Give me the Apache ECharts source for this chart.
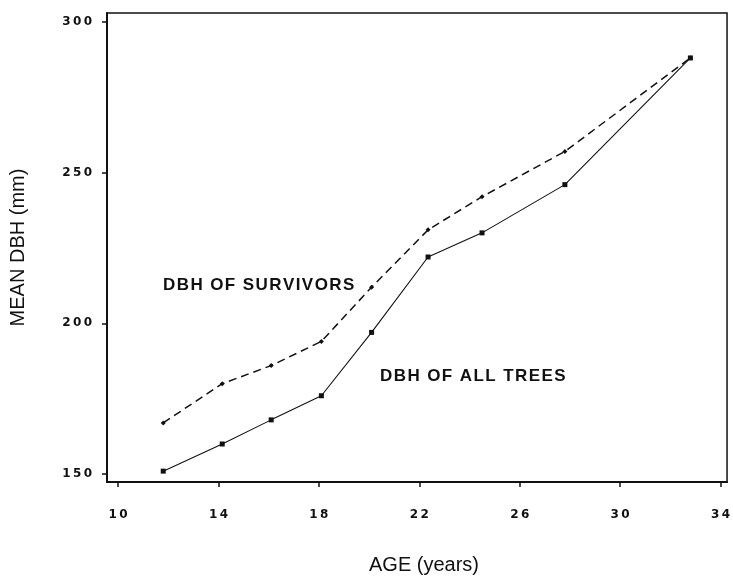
<!DOCTYPE html>
<html>
<head>
<meta charset="utf-8">
<script src="https://cdn.jsdelivr.net/npm/echarts@6/dist/echarts.min.js"></script>
<style>
  html, body {margin: 0; padding: 0; background: #fff;}
  #chart {width: 733px; height: 580px;}
</style>
</head>
<body>
<div id="chart"></div>
<script>
// ages (years) at which mean DBH was measured
const ages = [11.8, 14.15, 16.1, 18.1, 20.1, 22.35, 24.5, 27.8, 32.8];
const dbhAllTrees = [151, 160, 168, 176, 197, 222, 230, 246, 288];
const dbhSurvivors = [167, 180, 186, 194, 212, 231, 242, 257, 288];
const xTicks = [10, 14, 18, 22, 26, 30, 34];
const yTicks = [150, 200, 250, 300];

const tickFont = 'DejaVu Sans';
// the plotter font is wide, so space the glyphs a little
const spaced = (s, sp = '\u2009') => String(s).split('').join(sp);

const chart = echarts.init(document.getElementById('chart'), null, {renderer: 'canvas'});

const axisCommon = {
    axisLine: {show: true, lineStyle: {color: '#111', width: 2}},
    splitLine: {show: false},
    axisTick: {show: true, inside: false, length: 5, lineStyle: {color: '#111', width: 1.5}},
};
const labelCommon = {
    fontFamily: tickFont,
    fontWeight: 'bold',
    fontSize: 12,
    color: '#111',
    formatter: v => spaced(v),
};
const titleStyle = {fontFamily: 'Liberation Sans', fontSize: 20, color: '#111'};
const noteStyle = {
    font: 'bold 17px "Liberation Sans"',
    fill: '#111',
    textVerticalAlign: 'middle',
};

chart.setOption({
    animation: false,
    backgroundColor: '#fff',
    grid: {
        left: 101, right: 3, top: 13, bottom: 83,
        show: true, borderColor: '#111', borderWidth: 1.5,
    },
    xAxis: {
        ...axisCommon,
        type: 'value',
        min: 9.56,
        max: 34.26,
        axisTick: {...axisCommon.axisTick, customValues: xTicks},
        axisLabel: {...labelCommon, customValues: xTicks, margin: 27},
        name: 'AGE (years)',
        nameLocation: 'middle',
        nameGap: 73,
        nameTextStyle: {...titleStyle, padding: [0, 0, 0, 14]},
    },
    yAxis: {
        ...axisCommon,
        type: 'value',
        min: 147.4,
        max: 302.9,
        axisTick: {...axisCommon.axisTick, customValues: yTicks},
        axisLabel: {...labelCommon, customValues: yTicks, margin: 15},
        name: 'MEAN DBH (mm)',
        nameLocation: 'middle',
        nameGap: 79,
        nameTextStyle: titleStyle,
    },
    series: [{
        name: 'DBH of survivors',
        type: 'line',
        data: ages.map((a, i) => [a, dbhSurvivors[i]]),
        symbol: 'diamond',
        symbolSize: 5,
        itemStyle: {color: '#111'},
        lineStyle: {color: '#111', width: 1.5, type: [8, 5]},
        z: 3,
    }, {
        name: 'DBH of all trees',
        type: 'line',
        data: ages.map((a, i) => [a, dbhAllTrees[i]]),
        symbol: 'rect',
        symbolSize: 5,
        itemStyle: {color: '#111'},
        lineStyle: {color: '#111', width: 1.1},
        z: 4,
    }],
    graphic: [{
        type: 'text',
        left: 163, top: 277,
        style: {...noteStyle, text: spaced('DBH OF SURVIVORS', '\u200A')},
    }, {
        type: 'text',
        left: 380, top: 368,
        style: {...noteStyle, text: spaced('DBH OF ALL TREES', '\u200A')},
    }],
});
</script>
</body>
</html>
